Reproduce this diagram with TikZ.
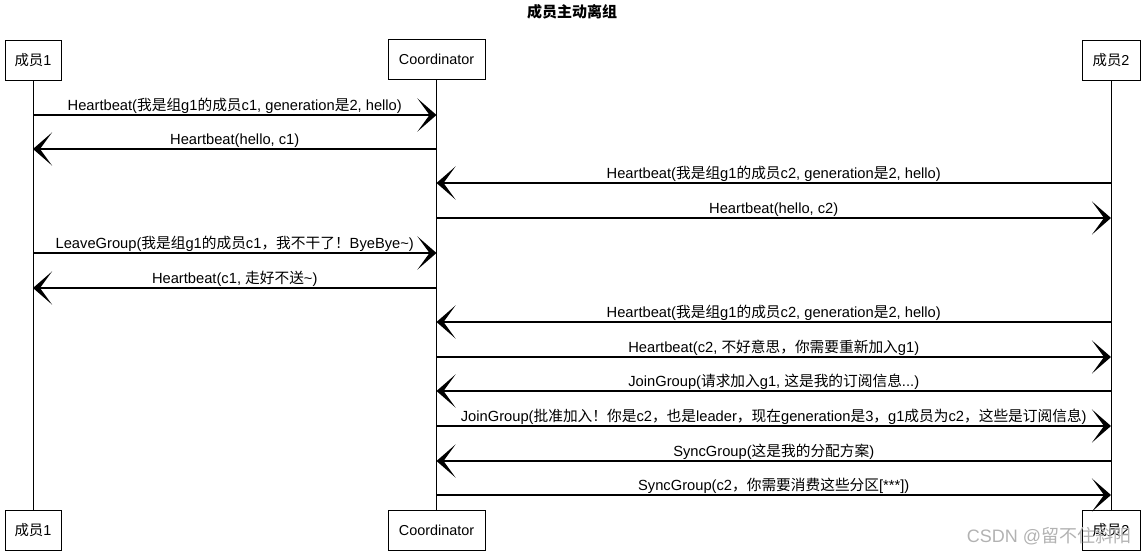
\documentclass[tikz,border=0pt]{standalone}
\usepackage{fontspec}
\setmainfont{Liberation Sans}
\newfontfamily\cjk{Noto Sans CJK SC}
\usetikzlibrary{arrows.meta, positioning}
\newcommand{\zh}[1]{{\cjk #1}}

\tikzset{
  actor/.style={draw, line width=0.9pt, minimum height=40pt, inner sep=3pt, font=\fontsize{14.4}{16}\selectfont},
  life/.style={line width=0.8pt},
  msg/.style={line width=1.4pt, -{Stealth[length=19pt, width=33pt, inset=12pt]}},
  lbl/.style={midway, above, inner sep=1pt, font=\fontsize{14.7}{16}\selectfont},
}

\begin{document}
\begin{tikzpicture}[x=1pt, y=-1pt]
    \useasboundingbox (0,0) rectangle (1144,554);

    % Title
    \node[font=\fontsize{15}{17}\selectfont\cjk\bfseries] (title) at (572,12) {成员主动离组};

    % Participants
    \node[actor, minimum width=56pt] (m1top) at (33,60) {\zh{成员}1};
    \node[actor, minimum width=97pt] (cotop) at (436.5,59) {Coordinator};
    \node[actor, minimum width=58pt] (m2top) at (1111,60) {\zh{成员}2};
    \node[actor, minimum width=56pt] (m1bot) at (33,530) {\zh{成员}1};
    \node[actor, minimum width=97pt] (cobot) at (436.5,530) {Coordinator};
    \node[actor, minimum width=58pt] (m2bot) at (1111,530) {\zh{成员}2};

    % Lifelines
    \draw[life] (m1top) -- (m1bot);
    \draw[life] (cotop) -- (cobot);
    \draw[life] (m2top) -- (m2bot);

    % Messages
    \draw[msg] (m1top |- 0,115) -- (cotop |- 0,115) node[lbl] {Heartbeat(\zh{我是组}g1\zh{的成员}c1, generation\zh{是}2, hello)};
    \draw[msg] (cotop |- 0,149) -- (m1top |- 0,149) node[lbl] {Heartbeat(hello, c1)};
    \draw[msg] (m2top |- 0,183) -- (cotop |- 0,183) node[lbl] {Heartbeat(\zh{我是组}g1\zh{的成员}c2, generation\zh{是}2, hello)};
    \draw[msg] (cotop |- 0,218) -- (m2top |- 0,218) node[lbl] {Heartbeat(hello, c2)};
    \draw[msg] (m1top |- 0,253) -- (cotop |- 0,253) node[lbl] {LeaveGroup(\zh{我是组}g1\zh{的成员}c1\zh{，我不干了！}ByeBye\textasciitilde)};
    \draw[msg] (cotop |- 0,288) -- (m1top |- 0,288) node[lbl] {Heartbeat(c1, \zh{走好不送}\textasciitilde)};
    \draw[msg] (m2top |- 0,322) -- (cotop |- 0,322) node[lbl] {Heartbeat(\zh{我是组}g1\zh{的成员}c2, generation\zh{是}2, hello)};
    \draw[msg] (cotop |- 0,357) -- (m2top |- 0,357) node[lbl] {Heartbeat(c2, \zh{不好意思，你需要重新加入}g1)};
    \draw[msg] (m2top |- 0,391) -- (cotop |- 0,391) node[lbl] {JoinGroup(\zh{请求加入}g1, \zh{这是我的订阅信息}...)};
    \draw[msg] (cotop |- 0,426) -- (m2top |- 0,426) node[lbl] {JoinGroup(\zh{批准加入！你是}c2\zh{，也是}leader\zh{，现在}generation\zh{是}3\zh{，}g1\zh{成员为}c2\zh{，这些是订阅信息})};
    \draw[msg] (m2top |- 0,461) -- (cotop |- 0,461) node[lbl] {SyncGroup(\zh{这是我的分配方案})};
    \draw[msg] (cotop |- 0,495) -- (m2top |- 0,495) node[lbl] {SyncGroup(c2\zh{，你需要消费这些分区}[***])};

    % Watermark
    \node[text=gray!60, font=\fontsize{18}{20}\selectfont] (mark) at (1049,536) {CSDN @\zh{留不住斜阳}};
\end{tikzpicture}
\end{document}
